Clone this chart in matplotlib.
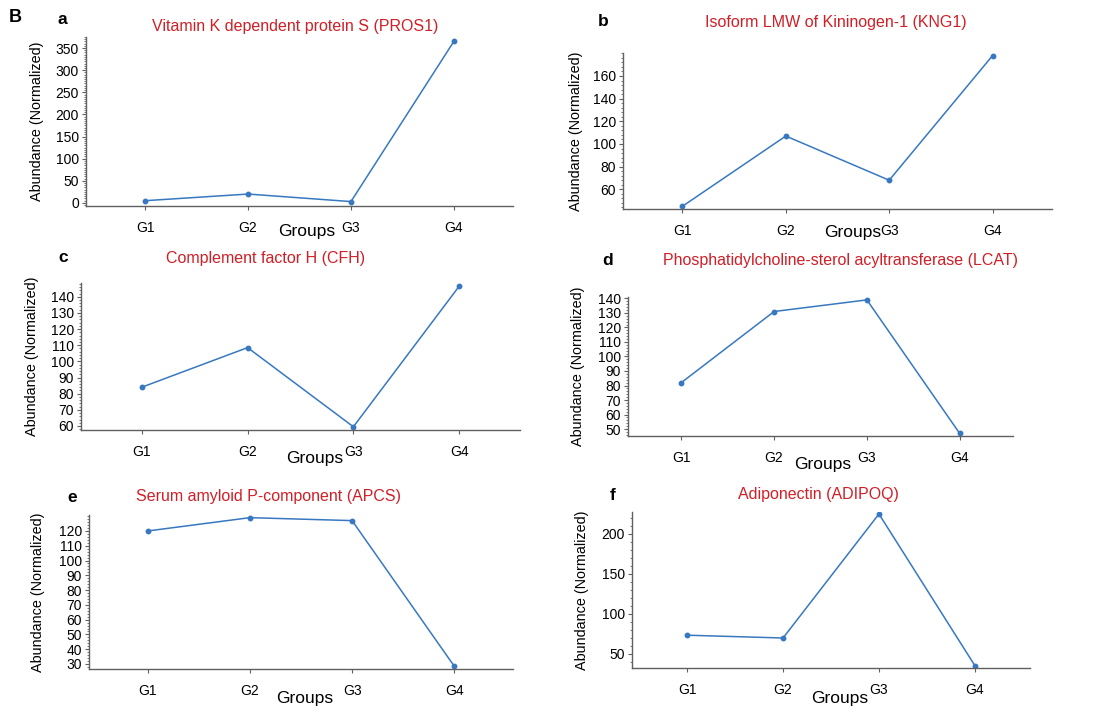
import matplotlib
matplotlib.use("Agg")
import matplotlib.pyplot as plt
from matplotlib.ticker import MultipleLocator

plt.rcParams['font.family'] = ['Liberation Sans', 'DejaVu Sans']

groups = ['G1', 'G2', 'G3', 'G4']

pros1 = [5, 20, 3, 365]
kng1 = [45, 107, 68, 178]
cfh = [84, 108.5, 59.5, 146.5]
lcat = [82, 131, 139, 47]
apcs = [120, 129, 127, 28.5]
adipoq = [73, 69.5, 224.5, 35]

titles = ['Vitamin K dependent protein S (PROS1)',
          'Isoform LMW of Kininogen-1 (KNG1)',
          'Complement factor H (CFH)',
          'Phosphatidylcholine-sterol acyltransferase (LCAT)',
          'Serum amyloid P-component (APCS)',
          'Adiponectin (ADIPOQ)']
letters = ['a', 'b', 'c', 'd', 'e', 'f']

# labelled y ticks for each panel (first, last, step)
yticks = [(0, 350, 50), (60, 160, 20), (60, 140, 10),
          (50, 140, 10), (30, 120, 10), (50, 200, 50)]

W, H = 1093, 706
fig = plt.figure(figsize=(W / 100, H / 100), dpi=100)

LINE = '#3778c0'
RED = '#d01f27'
SPINE = '#606060'

# panel layout in pixels: box (left, top, right, bottom), ylim, minor step,
# title centre, letter pos, ylabel x, "Groups" pos
panels = [
    dict(box=(86, 37, 513, 206), ylim=(-7, 375), minor=5,
         title=(295, 27), letter=(58, 20), ylab=37, grp=(307, 232)),
    dict(box=(623, 53, 1052, 209), ylim=(42.6, 180.3), minor=4,
         title=(836, 22), letter=(598, 22), ylab=576, grp=(853, 233)),
    dict(box=(81, 283, 520, 430), ylim=(57.5, 148.5), minor=2,
         title=(266, 258), letter=(58, 258), ylab=32, grp=(315, 458)),
    dict(box=(628, 297, 1013, 436), ylim=(45.2, 141), minor=2,
         title=(840, 260), letter=(602, 260), ylab=578, grp=(823, 464)),
    dict(box=(89, 515, 513, 669), ylim=(26.6, 130.8), minor=2,
         title=(268, 497), letter=(67, 497), ylab=38, grp=(305, 698)),
    dict(box=(632, 512, 1030, 668), ylim=(32, 227), minor=10,
         title=(818, 495), letter=(610, 495), ylab=582, grp=(840, 698)),
]
series = [pros1, kng1, cfh, lcat, apcs, adipoq]

for p, vals, title, letter, yt in zip(panels, series, titles, letters, yticks):
    l, t, r, b = p['box']
    ax = fig.add_axes([l / W, 1 - b / H, (r - l) / W, (b - t) / H])
    x = range(len(groups))
    ax.plot(x, vals, color=LINE, lw=1.1, marker='o', ms=3.2, mec=LINE)
    ax.set_xlim(-0.575, 3.575)
    ax.set_ylim(*p['ylim'])
    ax.set_xticks(list(x))
    ax.set_xticklabels(groups)
    ax.set_yticks(list(range(yt[0], yt[1] + 1, yt[2])))
    ax.yaxis.set_minor_locator(MultipleLocator(p['minor']))
    for s in ['top', 'right']:
        ax.spines[s].set_visible(False)
    for s in ['left', 'bottom']:
        ax.spines[s].set_color(SPINE)
        ax.spines[s].set_linewidth(1.0)
    ax.tick_params(axis='x', length=3, pad=8, labelsize=10, color=SPINE)
    ax.tick_params(axis='y', which='major', length=3, pad=2, labelsize=10, color=SPINE)
    ax.tick_params(axis='y', which='minor', length=1.5, color=SPINE)
    ax.set_ylabel('Abundance (Normalized)', fontsize=10.4)
    ax.yaxis.set_label_coords((p['ylab'] - l) / (r - l), 0.5)
    ax.yaxis.label.set_va('center')
    ax.set_xlabel('Groups', fontsize=12.5)
    gx, gy = p['grp']
    ax.xaxis.set_label_coords((gx - l) / (r - l), (b - gy) / (b - t))
    ax.xaxis.label.set_va('center')
    fig.text(p['title'][0] / W, 1 - p['title'][1] / H, title, color=RED,
             fontsize=11.5, ha='center', va='center')
    fig.text(p['letter'][0] / W, 1 - p['letter'][1] / H, letter,
             fontsize=12.5, fontweight='bold', ha='left', va='center')

fig.text(15 / W, 1 - 18 / H, 'B', fontsize=13, fontweight='bold',
         ha='center', va='center')

fig.savefig('out.png', dpi=100)
